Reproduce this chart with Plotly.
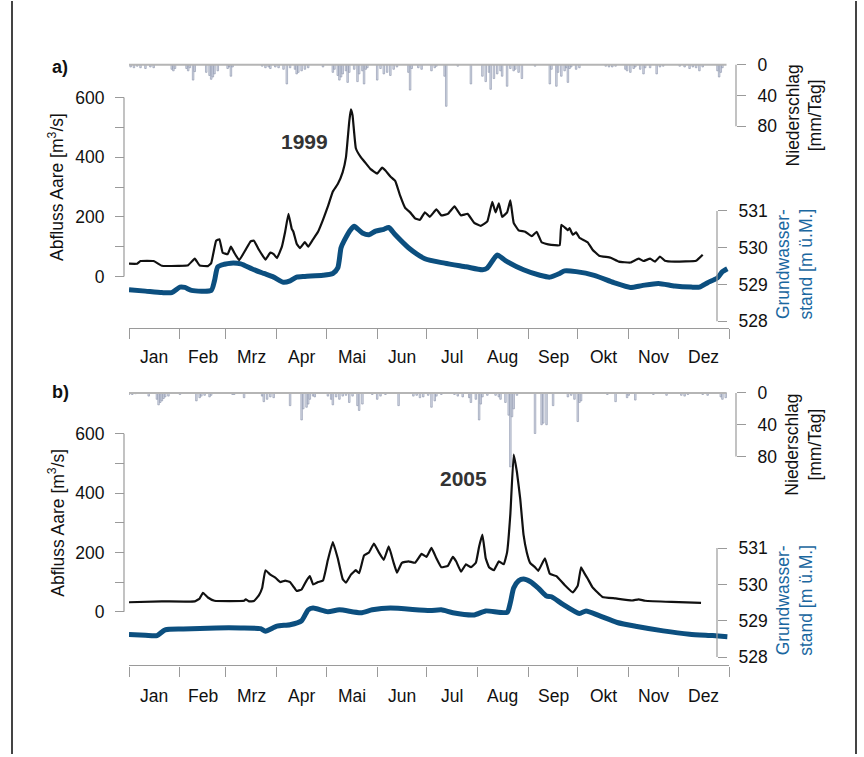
import plotly.graph_objects as go

# ---------------------------------------------------------------------------
# Data (day of year, 0 = 1 January)
# ---------------------------------------------------------------------------
months = ["Jan", "Feb", "Mrz", "Apr", "Mai", "Jun", "Jul", "Aug", "Sep", "Okt", "Nov", "Dez"]
month_len = [31, 28, 31, 30, 31, 30, 31, 31, 30, 31, 30, 31]

# 1999 - discharge Aare [m3/s]
q99_day = [0, 5, 7, 15, 20, 30, 36, 40, 43, 48, 50, 53, 55, 57, 60, 62, 64, 67, 71, 74, 76, 79, 83, 86,
           88, 90, 93, 95, 97, 99, 100, 102, 104, 107, 109, 112, 115, 118, 121, 124, 127, 130, 132, 134,
           135, 136, 138, 141, 144, 147, 151, 154, 156, 159, 162, 165, 168, 171, 174, 177, 180, 183, 187,
           190, 194, 198, 202, 206, 210, 214, 218, 221, 223, 225, 227, 230, 232, 234, 237, 241, 245, 248,
           251, 255, 259, 262, 263, 265, 267, 268, 270, 272, 274, 279, 282, 286, 293, 298, 305, 310, 313,
           317, 320, 323, 326, 332, 345, 349]
q99 = [43, 43, 52, 52, 36, 36, 38, 60, 37, 35, 45, 120, 125, 80, 75, 100, 80, 55, 90, 118, 120, 90, 57, 80,
       75, 62, 100, 150, 210, 160, 150, 110, 95, 115, 100, 125, 150, 190, 235, 285, 310, 350, 400, 520,
       560, 540, 430, 400, 380, 360, 345, 365, 355, 335, 320, 270, 230, 215, 195, 190, 215, 200, 225,
       205, 210, 235, 205, 210, 180, 170, 185, 250, 215, 245, 200, 215, 255, 180, 155, 150, 135, 150,
       115, 108, 105, 105, 173, 165, 155, 162, 140, 148, 130, 115, 90, 70, 63, 50, 47, 60, 52,
       60, 50, 67, 53, 50, 53, 73]

# 1999 - groundwater level [m a.s.l.]
gw99_day = [0, 10, 20, 26, 31, 34, 38, 50, 52, 54, 58, 62, 68, 75, 82, 88, 94, 98, 102, 107, 118, 124, 127,
            129, 131, 135, 137, 142, 146, 150, 155, 158, 162, 170, 180, 192, 205, 215, 218, 222, 224, 229,
            240, 250, 256, 262, 265, 272, 283, 295, 305, 312, 322, 332, 342, 347, 352, 358, 361, 364]
gw99 = [528.86, 528.82, 528.78, 528.78, 528.93, 528.92, 528.84, 528.84, 529.10, 529.48, 529.55, 529.58,
        529.56, 529.42, 529.30, 529.20, 529.06, 529.10, 529.20, 529.22, 529.25, 529.30, 529.45, 530.00,
        530.20, 530.50, 530.58, 530.40, 530.35, 530.45, 530.50, 530.55, 530.35, 530.00, 529.70, 529.58,
        529.48, 529.40, 529.45, 529.70, 529.80, 529.65, 529.40, 529.25, 529.20, 529.30, 529.37, 529.35,
        529.25, 529.05, 528.92, 528.97, 529.03, 528.96, 528.93, 528.93, 529.05, 529.18, 529.35, 529.43]

# 1999 - precipitation [mm/day]
p99_day = [1, 3, 5, 7, 10, 13, 15, 26, 27, 28, 35, 36, 37, 39, 40, 47, 49, 50, 51, 52, 54, 60, 61, 62, 63,
           81, 83, 85, 86, 89, 91, 94, 96, 98, 101, 102, 103, 105, 107, 109, 118, 124, 125, 127, 128, 129,
           130, 132, 133, 134, 137, 139, 140, 142, 143, 144, 145, 151, 153, 155, 157, 159, 161, 163, 170,
           171, 172, 176, 178, 184, 186, 187, 192, 193, 200, 208, 215, 217, 219, 220, 222, 224, 226, 227,
           230, 232, 234, 235, 237, 239, 247, 256, 257, 260, 261, 263, 265, 266, 267, 268, 269, 272, 274,
           290, 292, 294, 296, 302, 303, 305, 307, 308, 311, 313, 314, 317, 321, 323, 325, 335, 338, 341,
           343, 345, 347, 349, 358, 359, 360, 361]
p99 = [3, 4, 2, 4, 5, 3, 4, 6, 8, 5, 5, 8, 4, 20, 9, 10, 14, 19, 16, 12, 8, 5, 3, 15, 3,
       2, 4, 3, 5, 3, 4, 6, 25, 4, 6, 12, 10, 8, 6, 4, 3, 10, 6, 14, 20, 16,
       12, 8, 23, 10, 6, 22, 12, 8, 25, 6, 4, 20, 5, 12, 10, 14, 6, 3, 10,
       33, 5, 4, 6, 8, 4, 2, 15, 54, 2, 25, 15, 22, 10, 32, 18, 12, 8, 15,
       28, 5, 8, 6, 10, 18, 2, 25, 6, 28, 10, 15, 8, 4, 23, 5, 3, 6, 4,
       2, 3, 3, 2, 6, 8, 10, 5, 3, 6, 12, 4, 4, 12, 3, 2, 2, 3, 5,
       3, 4, 8, 3, 8, 16, 10, 4]

# 2005 - discharge Aare [m3/s]
q05_day = [0, 20, 40, 43, 45, 48, 52, 70, 71, 73, 76, 79, 81, 83, 86, 89, 92, 95, 98, 100, 102, 105, 108,
           110, 112, 115, 118, 121, 124, 127, 130, 132, 135, 138, 140, 143, 146, 149, 152, 155, 158, 161,
           163, 166, 170, 174, 178, 181, 184, 187, 190, 194, 197, 199, 202, 205, 208, 211, 213, 215, 217,
           219, 222, 225, 228, 230, 232, 234, 236, 238, 240, 242, 244, 247, 249, 253, 256, 260, 265, 270,
           273, 275, 277, 279, 282, 288, 296, 306, 310, 314, 330, 348]
q05 = [32, 35, 35, 45, 64, 48, 37, 37, 42, 35, 36, 55, 80, 140, 125, 115, 100, 105, 100, 85, 70, 75, 105,
       120, 92, 100, 105, 175, 235, 180, 110, 98, 125, 140, 130, 190, 200, 230, 200, 175, 220, 165,
       132, 165, 170, 165, 195, 185, 215, 180, 150, 155, 185, 170, 135, 160, 150, 165, 220, 260, 180,
       150, 140, 170, 160, 200, 330, 530, 470, 380, 260, 200, 165, 150, 138, 180, 128, 120, 90, 65,
       88, 150, 130, 112, 82, 50, 45, 38, 42, 37, 33, 30]

# 2005 - groundwater level [m a.s.l.]
gw05_day = [0, 10, 17, 22, 33, 53, 68, 80, 83, 90, 98, 105, 109, 112, 121, 128, 141, 148, 159, 183, 190,
            197, 210, 217, 230, 232, 234, 237, 240, 244, 249, 254, 257, 264, 274, 278, 286, 297, 309, 325,
            341, 355, 364]
gw05 = [528.62, 528.60, 528.59, 528.75, 528.77, 528.80, 528.80, 528.78, 528.71, 528.85, 528.89, 529.00,
        529.30, 529.35, 529.25, 529.30, 529.22, 529.30, 529.35, 529.28, 529.30, 529.22, 529.16, 529.27,
        529.23, 529.50, 529.90, 530.10, 530.15, 530.08, 529.90, 529.68, 529.66, 529.45, 529.20, 529.27,
        529.14, 528.95, 528.84, 528.72, 528.63, 528.59, 528.56]

# 2005 - precipitation [mm/day]
p05_day = [0, 2, 4, 12, 17, 18, 19, 20, 21, 22, 24, 31, 41, 43, 44, 46, 49, 50, 63, 64, 70, 81, 82, 84, 86,
           88, 98, 105, 106, 108, 109, 110, 112, 113, 121, 123, 124, 126, 128, 130, 132, 134, 136, 139, 140,
           142, 148, 151, 153, 156, 164, 173, 175, 177, 179, 182, 184, 186, 187, 190, 198, 200, 203, 207,
           208, 211, 213, 214, 215, 218, 223, 225, 226, 229, 231, 232, 233, 234, 236, 247, 251, 252, 254,
           258, 267, 269, 271, 273, 274, 275, 291, 296, 303, 304, 308, 319, 327, 336, 338, 340, 349, 352,
           360, 361, 363]
p05 = [2, 2, 1, 4, 8, 15, 12, 10, 7, 5, 4, 2, 10, 6, 4, 3, 5, 3, 2, 2, 6, 4, 11, 8, 5,
       6, 16, 34, 20, 18, 14, 8, 4, 5, 4, 8, 15, 5, 8, 4, 3, 12, 4, 16, 22,
       14, 2, 8, 4, 2, 16, 4, 3, 6, 5, 3, 18, 10, 4, 2, 2, 4, 5, 6,
       12, 8, 34, 14, 5, 3, 3, 5, 8, 12, 28, 93, 30, 20, 3, 51, 40, 38, 40,
       16, 5, 3, 8, 36, 12, 10, 2, 11, 6, 3, 9, 2, 3, 3, 4, 2, 2, 3,
       5, 8, 6]

# ---------------------------------------------------------------------------
# Page geometry (pixels on a 864 x 757 page)
# ---------------------------------------------------------------------------
W, H = 864, 757
FONT = "Liberation Sans, Arial, sans-serif"
AXC = "#9a9a9a"
Q_COLOR = "#111111"
GW_COLOR = "#0c4f7f"
GW_TITLE = "#1a67a0"
BAR_FILL = "#d6dbe7"
BAR_LINE = "#8891a8"


def fx(px):
    return px / W


def fy(py):
    return 1 - py / H


def span(v0, p0, v1, p1, top_px, bot_px):
    """Axis range whose values v0/v1 fall on pixel rows p0/p1."""
    k = (v1 - v0) / (p1 - p0)
    return [v0 + (bot_px - p0) * k, v0 + (top_px - p0) * k]


month_start = [sum(month_len[:i]) for i in range(13)]
month_mid = [month_start[i] + month_len[i] / 2 for i in range(12)]

X_LEFT, X_RIGHT = 129, 729
X_Q, X_GW, X_P = 124, 717, 736

panels = [
    dict(tag="a)", year="1999", year_xy=(304, 141), tag_y=66,
         top=55, bottom=329, label_y=357.5,
         q=(0, 277, 600, 97), p=(0, 64, 80, 126), gw=(528, 322, 531, 211),
         p_title_y=115, gw_title_y=265,
         xs="x", ys=("y", "y2", "y3"),
         pd=p99_day, pv=p99, gd=gw99_day, gv=gw99, qd=q99_day, qv=q99),
    dict(tag="b)", year="2005", year_xy=(463, 480), tag_y=393,
         top=385, bottom=668, label_y=699,
         q=(0, 614, 600, 435), p=(0, 394, 80, 458), gw=(528, 659.5, 531, 550),
         p_title_y=446, gw_title_y=603,
         xs="x2", ys=("y4", "y5", "y6"),
         pd=p05_day, pv=p05, gd=gw05_day, gv=gw05, qd=q05_day, qv=q05),
]

fig = go.Figure()
shapes = []
annotations = []
layout = dict(
    width=W, height=H, margin=dict(l=0, r=0, t=0, b=0),
    paper_bgcolor="white", plot_bgcolor="rgba(0,0,0,0)",
    showlegend=False, font=dict(family=FONT, size=17.5, color="#111"),
)

tick_font = dict(family=FONT, size=17.5, color="#111")

for pnl in panels:
    xs = pnl["xs"]
    yp, ygw, yq = pnl["ys"]
    dom = [fy(pnl["bottom"]), fy(pnl["top"])]

    # precipitation bars hanging from the top baseline
    fig.add_trace(go.Bar(x=pnl["pd"], y=pnl["pv"], base=0, width=0.95,
                         marker=dict(color=BAR_FILL, line=dict(color=BAR_LINE, width=0.6)),
                         xaxis=xs, yaxis=yp, hoverinfo="skip"))
    # groundwater level
    fig.add_trace(go.Scatter(x=pnl["gd"], y=pnl["gv"], mode="lines",
                             line=dict(color=GW_COLOR, width=5, shape="spline", smoothing=0.6),
                             xaxis=xs, yaxis=ygw, hoverinfo="skip"))
    # discharge
    fig.add_trace(go.Scatter(x=pnl["qd"], y=pnl["qv"], mode="lines",
                             line=dict(color=Q_COLOR, width=2.2, shape="spline", smoothing=0.3),
                             xaxis=xs, yaxis=yq, hoverinfo="skip"))

    xname = "xaxis" if xs == "x" else "xaxis" + xs[1:]
    layout[xname] = dict(
        domain=[fx(X_LEFT), fx(X_RIGHT)], range=[0, 365], anchor=yp,
        showline=True, linecolor=AXC, linewidth=1.2, mirror=False,
        ticks="outside", ticklen=10, tickcolor=AXC, tickwidth=1.2,
        tickvals=month_start, showticklabels=False,
        showgrid=False, zeroline=False, fixedrange=True,
    )

    def yname(a):
        return "yaxis" if a == "y" else "yaxis" + a[1:]

    common = dict(domain=dom, showgrid=False, zeroline=False, showline=False,
                  ticks="outside", ticklen=9, tickcolor=AXC, tickwidth=1.2,
                  tickfont=tick_font, anchor="free", fixedrange=True)

    v0, p0, v1, p1 = pnl["p"]
    layout[yname(yp)] = dict(common, range=span(v0, p0, v1, p1, pnl["top"], pnl["bottom"]),
                             side="right", position=fx(X_P), tickvals=[0, 40, 80],
                             ticklabelstandoff=8)
    v0, p0, v1, p1 = pnl["gw"]
    layout[yname(ygw)] = dict(common, range=span(v0, p0, v1, p1, pnl["top"], pnl["bottom"]),
                              side="right", position=fx(X_GW), overlaying=yp,
                              tickvals=[528, 529, 530, 531], ticklabelstandoff=8)
    v0, p0, v1, p1 = pnl["q"]
    layout[yname(yq)] = dict(common, range=span(v0, p0, v1, p1, pnl["top"], pnl["bottom"]),
                             side="left", position=fx(X_Q), overlaying=yp,
                             tickvals=[0, 200, 400, 600],
                             minor=dict(tickmode="array", tickvals=[100, 300, 500], ticks="outside",
                                        ticklen=9, tickcolor=AXC, tickwidth=1.2, showgrid=False),
                             ticklabelstandoff=7)

    # axis spines covering only the labelled span
    shapes += [
        dict(type="line", xref="paper", x0=fx(X_Q), x1=fx(X_Q), yref=yq, y0=0, y1=600,
             line=dict(color=AXC, width=1.2)),
        dict(type="line", xref="paper", x0=fx(X_GW), x1=fx(X_GW), yref=ygw, y0=528, y1=531,
             line=dict(color=AXC, width=1.2)),
        dict(type="line", xref="paper", x0=fx(X_P), x1=fx(X_P), yref=yp, y0=0, y1=80,
             line=dict(color=AXC, width=1.2)),
        dict(type="line", xref=xs, x0=0, x1=363.5, yref=yp, y0=0, y1=0,
             line=dict(color="#b5b5b5", width=2)),
    ]

    # month names centred in each month
    for m, mid in zip(months, month_mid):
        annotations.append(dict(text=m, x=mid, xref=xs, y=fy(pnl["label_y"]), yref="paper",
                                showarrow=False, xanchor="center", yanchor="middle",
                                font=dict(family=FONT, size=17.5, color="#111")))

    annotations += [
        dict(text="<b>" + pnl["tag"] + "</b>", x=fx(60), y=fy(pnl["tag_y"]), xref="paper", yref="paper",
             showarrow=False, xanchor="center", yanchor="middle",
             font=dict(family=FONT, size=18, color="#111")),
        dict(text="<b>" + pnl["year"] + "</b>", x=fx(pnl["year_xy"][0]), y=fy(pnl["year_xy"][1]),
             xref="paper", yref="paper", showarrow=False, xanchor="center", yanchor="middle",
             font=dict(family=FONT, size=21, color="#333")),
        dict(text="Abfluss Aare [m<sup>3</sup>/s]", textangle=-90,
             x=fx(56), y=fy((pnl["q"][1] + pnl["q"][3]) / 2), xref="paper", yref="paper",
             showarrow=False, xanchor="center", yanchor="middle",
             font=dict(family=FONT, size=17.5, color="#111")),
        dict(text="Niederschlag<br>[mm/Tag]", textangle=-90,
             x=fx(804), y=fy(pnl["p_title_y"]), xref="paper", yref="paper",
             showarrow=False, xanchor="center", yanchor="middle",
             font=dict(family=FONT, size=17.5, color="#111")),
        dict(text="Grundwasser-<br>stand [m ü.M.]", textangle=-90,
             x=fx(795), y=fy(pnl["gw_title_y"]), xref="paper", yref="paper",
             showarrow=False, xanchor="center", yanchor="middle",
             font=dict(family=FONT, size=17.5, color=GW_TITLE)),
    ]

# outer frame
shapes += [
    dict(type="line", xref="paper", yref="paper", x0=fx(12), x1=fx(12), y0=0, y1=1,
         line=dict(color="#444", width=2)),
    dict(type="line", xref="paper", yref="paper", x0=fx(856), x1=fx(856), y0=0, y1=1,
         line=dict(color="#444", width=2)),
]

layout["shapes"] = shapes
layout["annotations"] = annotations
fig.update_layout(**layout)
fig.write_html("out.html")
